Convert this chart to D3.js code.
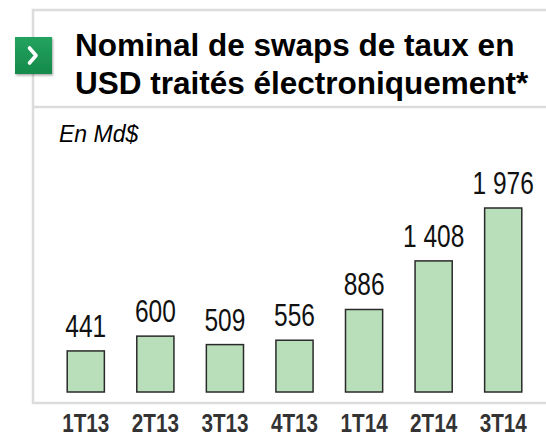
<!DOCTYPE html>
<html><head><meta charset="utf-8">
<script src="https://cdn.jsdelivr.net/npm/d3@7"></script>
<style>body{margin:0;background:#fff}svg{display:block}</style>
</head><body>
<svg id="c" width="546" height="438"></svg>
<script>
const categories = ["1T13","2T13","3T13","4T13","1T14","2T14","3T14"];
const values = [441,600,509,556,886,1408,1976];
const valueLabels = ["441","600","509","556","886","1 408","1 976"];
const titleLines = ["Nominal de swaps de taux en","USD traités électroniquement*"];
const unitLabel = "En Md$";

const svg = d3.select("#c");
const border = "#dcdcdc";
// frame
svg.append("path").attr("d","M546,10 H33 V403 H546").attr("fill","none").attr("stroke",border).attr("stroke-width",2.5);
svg.append("line").attr("x1",33).attr("x2",546).attr("y1",107).attr("y2",107).attr("stroke",border).attr("stroke-width",2.5);

// green badge
const defs = svg.append("defs");
const g = defs.append("linearGradient").attr("id","gb").attr("x1",0).attr("y1",0).attr("x2",0).attr("y2",1);
g.append("stop").attr("offset","0%").attr("stop-color","#23a35f");
g.append("stop").attr("offset","100%").attr("stop-color","#168a4a");
defs.append("filter").attr("id","sh").append("feDropShadow").attr("dx",1).attr("dy",1.5).attr("stdDeviation",1.2).attr("flood-color","#000").attr("flood-opacity",0.35);
svg.append("rect").attr("x",15).attr("y",37).attr("width",37).attr("height",37).attr("fill","url(#gb)").attr("filter","url(#sh)");
svg.append("path").attr("d","M29.5,48 L36,55.5 L29.5,63").attr("fill","none").attr("stroke","#fff").attr("stroke-width",3.6).attr("stroke-linecap","round").attr("stroke-linejoin","round");

// title
svg.append("text").attr("x",75).attr("y",56).attr("font-family","Liberation Sans, Arial, sans-serif").attr("font-weight","bold").attr("font-size",31.5).attr("fill","#000")
  .selectAll("tspan").data(titleLines).join("tspan").attr("x",75).attr("dy",(d,i)=>i?38:0).text(d=>d);

svg.append("text").attr("x",59).attr("y",142).attr("font-family","Liberation Sans, Arial, sans-serif").attr("font-style","italic").attr("font-size",23).attr("fill","#000").text(unitLabel);

// chart
const x = d3.scaleBand().domain(categories).range([51,538]).paddingInner(0.466).paddingOuter(0.233);
const y = d3.scaleLinear().domain([0,1976]).range([392,208]);

svg.append("g").selectAll("rect").data(values).join("rect")
  .attr("x",(d,i)=>x(categories[i])).attr("width",x.bandwidth())
  .attr("y",d=>y(d)).attr("height",d=>y(0)-y(d))
  .attr("fill","#b8dfb9").attr("stroke","#2a2a2a").attr("stroke-width",1.5);

svg.append("g").selectAll("g").data(values).join("g")
  .attr("transform",(d,i)=>`translate(${x(categories[i])+x.bandwidth()/2},${y(d)-14}) scale(0.79,1)`)
  .append("text").attr("text-anchor","middle").attr("font-family","Liberation Sans, Arial, sans-serif").attr("font-size",31).attr("fill","#111")
  .text((d,i)=>valueLabels[i]);

const xa = svg.append("g").attr("transform","translate(0,403)").call(d3.axisBottom(x).tickSize(0).tickPadding(0));
xa.select(".domain").remove();
xa.selectAll("text").attr("font-family","Liberation Sans, Arial, sans-serif").attr("font-weight","bold").attr("font-size",26.5).attr("fill","#333")
  .attr("y",29).attr("dy",null).attr("transform","scale(0.78,1)");
</script>
</body></html>
